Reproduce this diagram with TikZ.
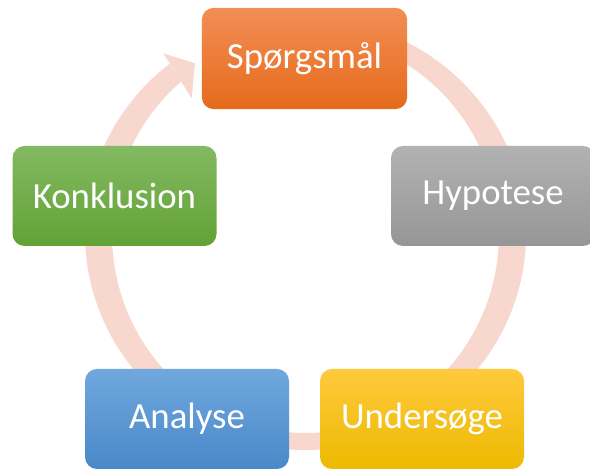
\documentclass[tikz,border=0pt]{standalone}
\usepackage{fontspec}
\setmainfont{Carlito}
\usetikzlibrary{calc}
\definecolor{ringc}{HTML}{F8D8CE}
\definecolor{orT}{HTML}{F28E55}
\definecolor{orB}{HTML}{E66B1B}
\definecolor{grT}{HTML}{B2B2B2}
\definecolor{grB}{HTML}{969696}
\definecolor{ylT}{HTML}{FFC93D}
\definecolor{ylB}{HTML}{ECBA00}
\definecolor{blT}{HTML}{70A8DE}
\definecolor{blB}{HTML}{4A88C8}
\definecolor{gnT}{HTML}{83B962}
\definecolor{gnB}{HTML}{62A234}
\begin{document}
\begin{tikzpicture}[x=0.75pt,y=0.75pt,
  box/.style={rounded corners=9pt, minimum width=153pt, minimum height=75pt,
    inner sep=0pt, text=white, font=\fontsize{27.6}{32}\selectfont, draw=none},
  ring/.style={fill=ringc, draw=none}]
\useasboundingbox (0,0) rectangle (590,470);
\coordinate (c) at (305.5,236);
% ring (slightly elliptical annulus)
\fill[ring] ($(c)+(100:220.5 and 216)$)
  arc[start angle=100, end angle=-232, x radius=220.5, y radius=216]
  -- ($(c)+(-230:193.5 and 199)$)
  arc[start angle=-230, end angle=100, x radius=193.5, y radius=199] -- cycle;
% arrowhead
\coordinate (b1) at (163.3,416.7);
\coordinate (tip) at (195,406.7);
\coordinate (b2) at (191.7,371.7);
\fill[ring] (b1) -- (tip) -- (b2) -- cycle;
% boxes
\node[box, top color=orT, bottom color=orB, minimum width=154pt, minimum height=76pt] (q) at (304.5,411.5) {Spørgsmål};
\node[box, top color=grT, bottom color=grB] (h) at (493,274) {Hypotese};
\node[box, top color=ylT, bottom color=ylB] (u) at (422,51) {Undersøge};
\node[box, top color=blT, bottom color=blB] (a) at (187,51) {Analyse};
\node[box, top color=gnT, bottom color=gnB] (k) at (114.5,274) {Konklusion};
\end{tikzpicture}
\end{document}
